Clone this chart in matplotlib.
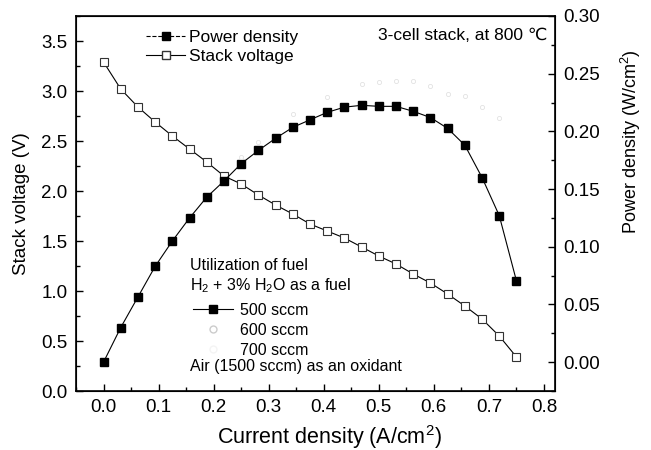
import matplotlib
matplotlib.use("Agg")
import matplotlib.pyplot as plt
from matplotlib.lines import Line2D
from matplotlib.ticker import MultipleLocator

plt.rcParams['font.family'] = ['Liberation Sans', 'DejaVu Sans']
plt.rcParams['mathtext.fontset'] = 'custom'
plt.rcParams['mathtext.rm'] = 'Liberation Sans'
plt.rcParams['mathtext.it'] = 'Liberation Sans:italic'
plt.rcParams['mathtext.bf'] = 'Liberation Sans:bold'

# Current density (A/cm2)
current = [0.0, 0.03125, 0.0625, 0.09375, 0.125, 0.15625, 0.1875, 0.21875, 0.25,
           0.28125, 0.3125, 0.34375, 0.375, 0.40625, 0.4375, 0.46875, 0.5,
           0.53125, 0.5625, 0.59375, 0.625, 0.65625, 0.6875, 0.71875, 0.75]
# Stack voltage (V), 500 sccm
voltage = [3.29, 3.02, 2.84, 2.69, 2.55, 2.42, 2.29, 2.15, 2.07,
           1.96, 1.86, 1.77, 1.67, 1.60, 1.53, 1.44, 1.35,
           1.27, 1.17, 1.08, 0.97, 0.85, 0.72, 0.55, 0.34]
# Power density (W/cm2), 500 sccm
power = [0.0, 0.030, 0.0565, 0.083, 0.105, 0.125, 0.143, 0.157, 0.172,
         0.1835, 0.194, 0.2035, 0.210, 0.2165, 0.221, 0.2226, 0.2217,
         0.2217, 0.2174, 0.212, 0.2026, 0.188, 0.160, 0.127, 0.0704]
# faint 600 sccm power density (barely visible in reference)
current_600 = [0.25, 0.28125, 0.34375, 0.40625, 0.46875, 0.5, 0.53125, 0.5625,
               0.59375, 0.625, 0.65625, 0.6875, 0.71875]
power_600 = [0.178, 0.191, 0.215, 0.230, 0.241, 0.2426, 0.2435, 0.2435,
             0.239, 0.232, 0.231, 0.221, 0.212]

fig = plt.figure(figsize=(6.51, 4.5), dpi=100)
ax = fig.add_axes([76/651, 59/450, 479/651, 375/450])
ax2 = ax.twinx()

ax.plot(current, voltage, color='black', lw=0.8, marker='s', ms=6,
        mfc='white', mec='#333333', mew=0.8)
ax2.plot(current, power, color='black', lw=0.8, marker='s', ms=6,
         mfc='black', mec='black')
ax2.plot(current_600, power_600, ls='none', marker='o', ms=3,
         mfc='none', mec='#e2e2e2', mew=0.6)

ax.set_xlim(-0.05, 0.82)
ax.set_ylim(0, 3.75)
ax2.set_ylim(-0.025, 0.30)

ax.xaxis.set_major_locator(MultipleLocator(0.1))
ax.xaxis.set_minor_locator(MultipleLocator(0.05))
ax.yaxis.set_major_locator(MultipleLocator(0.5))
ax.yaxis.set_minor_locator(MultipleLocator(0.25))
ax2.yaxis.set_major_locator(MultipleLocator(0.05))
ax2.yaxis.set_minor_locator(MultipleLocator(0.025))

ax.xaxis.set_major_formatter(plt.FuncFormatter(lambda v, p: f"{v:.1f}"))
ax.yaxis.set_major_formatter(plt.FuncFormatter(lambda v, p: f"{v:.1f}"))
ax2.yaxis.set_major_formatter(plt.FuncFormatter(lambda v, p: f"{v:.2f}"))

for a in (ax, ax2):
    a.tick_params(which='major', direction='in', length=5, width=1,
                  labelsize=13.5, pad=6)
    a.tick_params(which='minor', direction='in', length=3, width=1)
ax.tick_params(axis='y', which='both', right=False)
ax2.tick_params(axis='y', which='both', left=False)
for s in ax.spines.values():
    s.set_linewidth(1.2)

# axis labels placed at the reference positions
fig.text(329 / 651, (450 - 437) / 450, 'Current density (A/cm$^2$)', fontsize=15.5,
         ha='center', va='center')
fig.text(22 / 651, (450 - 204) / 450, 'Stack voltage (V)', fontsize=13.5,
         ha='center', va='center', rotation=90)
fig.text(631 / 651, (450 - 142) / 450, 'Power density (W/cm$^2$)', fontsize=13,
         ha='center', va='center', rotation=90)

# top legend
h1 = Line2D([], [], color='black', lw=0.8, ls='--', marker='s', ms=6, mfc='black', mec='black')
h2 = Line2D([], [], color='black', lw=0.8, ls='-', marker='s', ms=6, mfc='white', mec='#333333')
leg = ax2.legend([h1, h2], ['Power density', 'Stack voltage'], loc='upper left',
                 bbox_to_anchor=(0.118, 1.0), frameon=False, fontsize=12.5,
                 handlelength=2.2, handletextpad=0.25, labelspacing=0.2,
                 borderpad=0.3)
ax2.add_artist(leg)

ax.text(0.985, 0.947, '3-cell stack, at 800 \u2103', transform=ax.transAxes,
        ha='right', va='center', fontsize=12.5)

# lower annotation block
tx = (190 - 76) / 479
ax.text(tx, (391 - 265) / 375, 'Utilization of fuel', transform=ax.transAxes,
        ha='left', va='center', fontsize=11.5)
ax.text(tx, (391 - 286) / 375, 'H$_2$ + 3% H$_2$O as a fuel', transform=ax.transAxes,
        ha='left', va='center', fontsize=11.5)
ax.text(tx, (391 - 367) / 375, 'Air (1500 sccm) as an oxidant', transform=ax.transAxes,
        ha='left', va='center', fontsize=11.5)

g1 = Line2D([], [], color='black', lw=0.8, marker='s', ms=6, mfc='black', mec='black')
g2 = Line2D([], [], ls='none', marker='o', ms=5, mfc='none', mec='#cccccc')
g3 = Line2D([], [], ls='none', marker='o', ms=5, mfc='none', mec='#f4f4f4')
leg2 = ax2.legend([g1, g2, g3], ['500 sccm', '600 sccm', '700 sccm'], loc='upper left',
                  bbox_to_anchor=(tx - 0.01, (391 - 295) / 375), frameon=False,
                  fontsize=11.5, handlelength=2.5, handletextpad=0.4,
                  labelspacing=0.3, borderpad=0.0)

fig.savefig('out.png', dpi=100)
